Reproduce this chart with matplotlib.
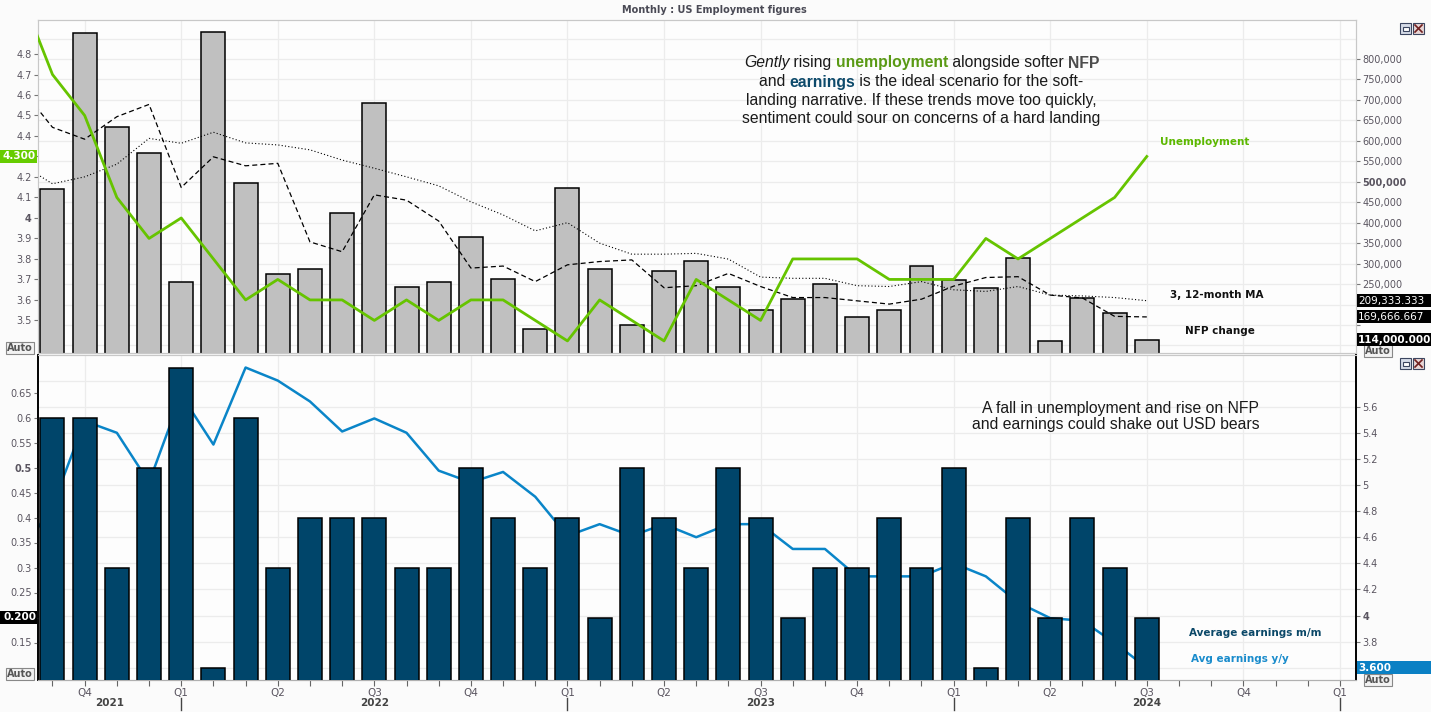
import matplotlib
matplotlib.use('Agg')
import matplotlib.pyplot as plt
from matplotlib.ticker import FixedLocator
from matplotlib.transforms import IdentityTransform
from matplotlib.patches import Rectangle
from matplotlib.lines import Line2D
import numpy as np
import pandas as pd

# Aug 2021 .. Jul 2024; the Aug 2021 point only lets the lines run in from the left edge
months = pd.date_range('2021-08-01', '2024-07-01', freq='MS')

unemployment = [5.1, 4.7, 4.5, 4.1, 3.9, 4.0, 3.8, 3.6, 3.7, 3.6, 3.6, 3.5, 3.6,
                3.5, 3.6, 3.6, 3.5, 3.4, 3.6, 3.5, 3.4, 3.7, 3.6, 3.5, 3.8, 3.8,
                3.8, 3.7, 3.7, 3.7, 3.9, 3.8, 3.9, 4.0, 4.1, 4.3]
# NFP change (thousands), Sep 2021 .. Jul 2024
nfp_change = [482, 863, 633, 570, 254, 865, 496, 274, 288, 423, 692, 244, 256,
              364, 262, 140, 484, 288, 150, 281, 306, 242, 186, 213, 249, 169,
              186, 293, 259, 240, 313, 110, 216, 179, 114]
nfp_ma3 = [731, 633, 604, 659, 689, 486, 561, 539, 545, 353, 329, 468, 455, 404,
           289, 294, 256, 297, 305, 309, 241, 246, 276, 244, 217, 217, 209, 201,
           213, 245, 266, 268, 223, 216, 171, 169.666667]
nfp_ma12 = [544, 495, 512, 543, 606, 594, 621, 595, 590, 578, 553, 533, 512, 490,
            451, 419, 380, 400, 350, 323, 323, 325, 311, 267, 264, 264, 246, 244,
            256, 236, 232, 244, 223, 221, 217, 209.333333]
# average hourly earnings, Sep 2021 .. Jul 2024 (m/m) and Aug 2021 .. Jul 2024 (y/y)
earnings_mm = [0.6, 0.6, 0.3, 0.5, 0.7, 0.1, 0.6, 0.3, 0.4, 0.4, 0.4, 0.3, 0.3,
               0.5, 0.4, 0.3, 0.4, 0.2, 0.5, 0.4, 0.3, 0.5, 0.4, 0.2, 0.3, 0.3,
               0.4, 0.3, 0.5, 0.1, 0.4, 0.2, 0.4, 0.3, 0.2]
earnings_yy = [4.47, 4.84, 5.49, 5.40, 5.02, 5.69, 5.31, 5.90, 5.80, 5.64, 5.41,
               5.51, 5.40, 5.11, 5.02, 5.10, 4.91, 4.61, 4.70, 4.61, 4.70, 4.60,
               4.70, 4.70, 4.51, 4.51, 4.30, 4.30, 4.30, 4.40, 4.30, 4.10, 3.98,
               3.96, 3.79, 3.60]

unemp_ticks = [3.5, 3.6, 3.7, 3.8, 3.9, 4.0, 4.1, 4.2, 4.3, 4.4, 4.5, 4.6, 4.7, 4.8]
nfp_ticks = [150, 200, 250, 300, 350, 400, 450, 500, 550, 600, 650, 700, 750, 800]
mm_ticks = [0.15, 0.2, 0.25, 0.3, 0.35, 0.4, 0.45, 0.5, 0.55, 0.6, 0.65]
yy_ticks = [3.8, 4.0, 4.2, 4.4, 4.6, 4.8, 5.0, 5.2, 5.4, 5.6]

W, H = 1431, 712
fig = plt.figure(figsize=(W / 100, H / 100), dpi=100)
fig.patch.set_facecolor('#fbfbfb')
PIX = IdentityTransform()


def box(x0, y0, x1, y1):
    return [x0 / W, 1 - y1 / H, (x1 - x0) / W, (y1 - y0) / H]


def mpos(d):
    # month index, Sep 2021 = 0
    return (d.year - 2021) * 12 + d.month - 9


x_all = np.array([mpos(d) for d in months])
x_bar = x_all[1:]
XLIM = (-0.45, 40.5)
tick_col = '#5a5560'
grid_col = '#ececec'


def style_y(ax, ticks, labels, bold, hidden=()):
    # tick labels sitting under a value flag are hidden, as in the terminal
    labels = ['' if t in hidden else l for t, l in zip(ticks, labels)]
    ax.yaxis.set_major_locator(FixedLocator(ticks))
    ax.set_yticklabels(labels)
    ax.tick_params(axis='y', labelsize=7, labelcolor=tick_col, color='#777777',
                   length=3, width=0.8, pad=1.5)
    for lbl in ax.get_yticklabels():
        if lbl.get_text() == bold:
            lbl.set_fontweight('bold')


# ---------- top panel: NFP + unemployment ----------
ax_n = fig.add_axes(box(38, 20, 1356, 353))
ax_n.set_facecolor('#fdfdfd')
ax_u = ax_n.twinx()
ax_n.yaxis.tick_right()
ax_u.yaxis.tick_left()

ax_n.bar(x_bar, nfp_change, width=0.745, color='#c0c0c0', edgecolor='black',
         linewidth=1.1, zorder=2)
ax_n.plot(x_all, nfp_ma3, color='black', lw=0.9, ls=(0, (4, 2.5)), zorder=3)
ax_n.plot(x_all, nfp_ma12, color='black', lw=0.8, ls=(0, (1, 2)), zorder=3)
ax_u.plot(x_all, unemployment, color='#66c400', lw=2, zorder=4)

ax_n.set_xlim(*XLIM)
ax_n.set_ylim(81.5, 895.3)
ax_u.set_ylim(3.341, 4.966)

style_y(ax_n, nfp_ticks, [f'{v * 1000:,.0f}' for v in nfp_ticks], '500,000',
        hidden=(150, 200))
style_y(ax_u, unemp_ticks, [f'{v:g}' for v in unemp_ticks], '4', hidden=(4.3,))
ax_n.yaxis.set_minor_locator(FixedLocator([100, 850]))
ax_n.tick_params(axis='y', which='minor', length=0)

quarters = pd.date_range('2021-10-01', '2025-01-01', freq='QS')
q_pos = [mpos(d) for d in quarters]
q_lab = [f'Q{(d.month - 1) // 3 + 1}' for d in quarters]
all_months = pd.date_range('2021-09-01', '2025-01-01', freq='MS')
m_pos = [mpos(d) for d in all_months]

ax_n.set_xticks(q_pos)
ax_n.tick_params(axis='x', labelbottom=False, length=0)
ax_n.grid(axis='y', which='both', color=grid_col, lw=0.9)
ax_n.grid(axis='x', color=grid_col, lw=0.9)
ax_n.set_axisbelow(True)
for a in (ax_n, ax_u):
    for sp in a.spines.values():
        sp.set_color('#c8c8c8')

# ---------- bottom panel: earnings ----------
ax_y = fig.add_axes(box(38, 355, 1356, 680))
ax_y.set_facecolor('#fdfdfd')
ax_m = ax_y.twinx()
ax_y.yaxis.tick_right()
ax_m.yaxis.tick_left()

ax_y.plot(x_all, earnings_yy, color='#0a85c8', lw=1.8, zorder=2)
ax_m.bar(x_bar, earnings_mm, width=0.745, color='#00456a', edgecolor='black',
         linewidth=1.1, zorder=3)

ax_y.set_xlim(*XLIM)
ax_y.set_ylim(3.506, 5.996)
ax_m.set_ylim(0.075, 0.725)
style_y(ax_y, yy_ticks, [f'{v:g}' for v in yy_ticks], '4')
style_y(ax_m, mm_ticks, [f'{v:g}' for v in mm_ticks], '0.5', hidden=(0.2,))
ax_y.yaxis.set_minor_locator(FixedLocator([3.6, 5.8]))
ax_y.tick_params(axis='y', which='minor', length=0)

ax_y.set_xticks(q_pos)
ax_y.set_xticklabels(q_lab)
ax_y.xaxis.set_minor_locator(FixedLocator(m_pos))
ax_y.tick_params(axis='x', which='both', length=4, width=0.8, color='#666666',
                 labelsize=7.5, labelcolor=tick_col, pad=2)
ax_y.grid(axis='y', which='both', color=grid_col, lw=0.9)
ax_y.grid(axis='x', which='major', color=grid_col, lw=0.9)
ax_y.set_axisbelow(True)
for a in (ax_y, ax_m):
    a.spines['top'].set_color('#c8c8c8')
    a.spines['bottom'].set_color('#b0b0b0')
    a.spines['left'].set_color('black')
    a.spines['right'].set_color('black')
    a.spines['left'].set_linewidth(1.2)
    a.spines['right'].set_linewidth(1.2)

# years under the quarters, with a long tick at each January
xt = ax_y.get_xaxis_transform()
for d in quarters:
    if d.month == 1:
        ax_y.add_line(Line2D([mpos(d)] * 2, [-0.056, -0.093], transform=xt,
                             color='#444444', lw=1, clip_on=False))
for yr in [2021, 2022, 2023, 2024]:
    xp = mpos(pd.Timestamp(f'{yr}-07-01'))
    if xp < XLIM[0]:
        xp = (XLIM[0] + mpos(pd.Timestamp(f'{yr + 1}-01-01'))) / 2
    ax_y.text(xp, -0.07, str(yr), transform=xt, ha='center', va='center',
              fontsize=7.5, fontweight='bold', color='#444444')


# ---------- value flags on the axes ----------
def flag(ax, value, label, fc, side, weight='bold'):
    y = ax.transData.transform((0, value))[1]
    x0, x1 = (1357, 1431) if side == 'right' else (0, 37)
    fig.add_artist(Rectangle((x0, y - 6.5), x1 - x0, 13, transform=PIX,
                             fc=fc, ec='none', zorder=5))
    if side == 'right':
        fig.text(x0 + 1, y, label, transform=PIX, ha='left', va='center',
                 color='white', fontsize=7.5, fontweight=weight, zorder=6)
    else:
        fig.text(x1 - 1, y, label, transform=PIX, ha='right', va='center',
                 color='white', fontsize=7.5, fontweight=weight, zorder=6)


flag(ax_u, unemployment[-1], f'{unemployment[-1]:.3f}', '#66cc00', 'left')
flag(ax_n, nfp_ma12[-1], f'{nfp_ma12[-1] * 1000:,.3f}', 'black', 'right', 'normal')
flag(ax_n, nfp_ma3[-1], f'{nfp_ma3[-1] * 1000:,.3f}', 'black', 'right', 'normal')
flag(ax_n, nfp_change[-1], f'{nfp_change[-1] * 1000:,.3f}', 'black', 'right')
flag(ax_m, earnings_mm[-1], f'{earnings_mm[-1]:.3f}', 'black', 'left')
flag(ax_y, earnings_yy[-1], f'{earnings_yy[-1]:.3f}', '#0a80c4', 'right')

# "Auto" buttons and window icons
for (bx, by) in [(20, 348), (1378, 351), (20, 674), (1378, 680)]:
    fig.text(bx, H - by, 'Auto', transform=PIX, ha='center', va='center',
             fontsize=7, fontweight='bold', color='#555555', zorder=4,
             bbox=dict(boxstyle='square,pad=0.12', fc='#f2f2f2', ec='#888888', lw=0.8))
for iy in [23, 358]:
    y0 = H - iy - 11
    fig.add_artist(Rectangle((1400, y0), 11, 11, transform=PIX, fc='#d6dce8', ec='#3c4660', lw=0.8))
    fig.add_artist(Rectangle((1402.5, y0 + 3), 6, 4, transform=PIX, fc='white', ec='#3c4660', lw=0.8))
    fig.add_artist(Rectangle((1413, y0), 11, 11, transform=PIX, fc='#e8d6d6', ec='#3c4660', lw=0.8))
    fig.add_artist(Line2D([1415, 1422], [y0 + 2, y0 + 9], transform=PIX, color='#702020', lw=1.2))
    fig.add_artist(Line2D([1415, 1422], [y0 + 9, y0 + 2], transform=PIX, color='#702020', lw=1.2))

# title and series labels
fig.text(714, H - 10, 'Monthly : US Employment figures', transform=PIX, ha='center',
         va='center', fontsize=7, fontweight='bold', color='#4a4a55')
lab = dict(transform=PIX, ha='left', va='center', fontsize=7.5, fontweight='bold')
fig.text(1160, H - 142, 'Unemployment', color='#5cb800', **lab)
fig.text(1170, H - 295, '3, 12-month MA', color='#111111', **lab)
fig.text(1185, H - 331, 'NFP change', color='#111111', **lab)
fig.text(1189, H - 633, 'Average earnings m/m', color='#0b4868', **lab)
fig.text(1191, H - 659, 'Avg earnings y/y', color='#1a8ccc', **lab)

# mixed-style commentary
renderer = fig.canvas.get_renderer()
FAM = 'Liberation Sans'


def piece_width(s, size, kw):
    t1 = fig.text(0, 0, '.' + s + '.', transform=PIX, fontsize=size, family=FAM, **kw)
    t2 = fig.text(0, 0, '..', transform=PIX, fontsize=size, family=FAM, **kw)
    w = t1.get_window_extent(renderer).width - t2.get_window_extent(renderer).width
    t1.remove()
    t2.remove()
    return w


def rich_line(xc, y, pieces, size=11.3):
    widths = [piece_width(s, size, kw) for s, kw in pieces]
    x = xc - sum(widths) / 2
    for (s, kw), w in zip(pieces, widths):
        fig.text(x, H - y, s, transform=PIX, fontsize=size, family=FAM,
                 ha='left', va='center', **kw)
        x += w


txt = dict(color='#1a1a1a')
rich_line(921, 63, [('Gently', dict(style='italic', **txt)), (' rising ', txt),
                    ('unemployment', dict(weight='bold', color='#5a9a14')),
                    (' alongside softer ', txt),
                    ('NFP', dict(weight='bold', color='#4d4d4d'))])
rich_line(921, 82, [('and ', txt), ('earnings', dict(weight='bold', color='#0d4a6b')),
                    (' is the ideal scenario for the soft-', txt)])
rich_line(921, 101, [('landing narrative. If these trends move too quickly,', txt)])
rich_line(921, 119, [('sentiment could sour on concerns of a hard landing', txt)])

rich_line(1119, 408, [('A fall in unemployment and rise on NFP', txt)], size=11.3)
rich_line(1116, 425, [('and earnings could shake out USD bears', txt)], size=11.3)

fig.savefig('out.png', dpi=100, facecolor=fig.get_facecolor())
